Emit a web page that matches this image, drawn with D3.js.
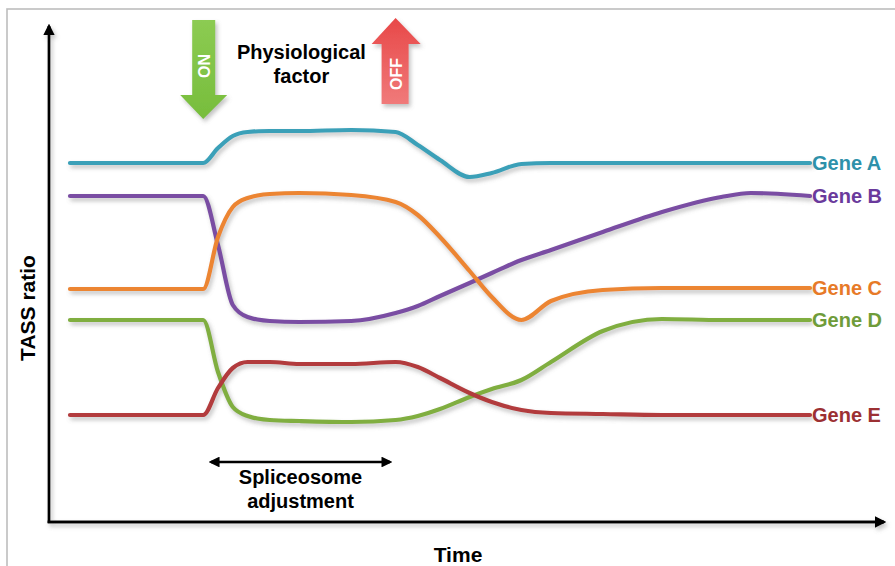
<!DOCTYPE html>
<html>
<head>
<meta charset="utf-8">
<script src="https://cdn.jsdelivr.net/npm/d3@7"></script>
<style>
  html, body { margin: 0; padding: 0; background: #fff; }
  svg { display: block; font-family: "Liberation Sans", Arial, sans-serif; }
</style>
</head>
<body>
<svg id="chart" width="895" height="566"></svg>
<script>
// ---- data (time in arbitrary units, TASS ratio in arbitrary units) ----
const times = [0, 18, 20, 22, 24, 27, 31, 38, 44, 47, 50, 54, 57, 61, 65, 72, 80, 88, 92, 100];
const geneA = [71.8, 71.8, 74.8, 77.2, 78, 78.2, 78.2, 78.4, 78, 75.4, 72.4, 69, 69.8, 71.6, 71.8, 71.8, 71.8, 71.8, 71.8, 71.8];
const geneB = [65.2, 65.2, 55.4, 43.4, 41, 40.2, 40, 40.2, 41.8, 43.2, 45.2, 47.8, 49.8, 52.4, 54.4, 58, 62, 65, 65.8, 65.2];
const geneC = [46.6, 46.6, 57, 63, 64.8, 65.6, 65.8, 65.4, 64, 61.4, 57, 50.2, 45, 40.4, 44.2, 46.4, 46.8, 46.8, 46.8, 46.8];
const geneD = [40.4, 40.4, 30, 23, 21.2, 20.4, 20.2, 20, 20.4, 21.2, 22.6, 25, 26.6, 28.4, 32, 38.2, 40.6, 40.4, 40.4, 40.4];
const geneE = [21.4, 21.4, 26.8, 30.8, 32, 32, 31.6, 31.6, 32, 31, 28.8, 25.8, 24, 22.4, 21.8, 21.6, 21.4, 21.4, 21.4, 21.4];
const geneNames = ["Gene A", "Gene B", "Gene C", "Gene D", "Gene E"];
const lineColors = ["#3aa0b8", "#7a4ea3", "#ec8533", "#80ae40", "#b23b3c"];
const labelColors = ["#2e91aa", "#6a3a9c", "#e77a28", "#6f9c3a", "#9c3033"];
const onTime = 18, offTime = 44;   // physiological factor switched on / off
const spliceStart = 18.5, spliceEnd = 43.8;

const seriesValues = [geneA, geneB, geneC, geneD, geneE];

// ---- scales ----
const x = d3.scaleLinear().domain([0, 100]).range([70, 810]);
const y = d3.scaleLinear().domain([0, 100]).range([522, 22]);
const xAxisEnd = 888, yAxisTop = 22, axisX = 49, axisY = 522;

const svg = d3.select("#chart");
const defs = svg.append("defs");

// drop shadow
const f = defs.append("filter").attr("id", "shadow")
  .attr("x", "-10%").attr("y", "-20%").attr("width", "130%").attr("height", "160%");
f.append("feDropShadow").attr("dx", 2).attr("dy", 3).attr("stdDeviation", 2)
  .attr("flood-color", "#777").attr("flood-opacity", 0.45);

// arrow marker
const mk = defs.append("marker").attr("id", "arrowHead")
  .attr("viewBox", "0 0 10 10").attr("refX", 8).attr("refY", 5)
  .attr("markerWidth", 4.2).attr("markerHeight", 4.2).attr("orient", "auto-start-reverse")
  .attr("markerUnits", "strokeWidth");
mk.append("path").attr("d", "M0,0 L10,5 L0,10 Z").attr("fill", "#000");

const mk2 = defs.append("marker").attr("id", "arrowHead2")
  .attr("viewBox", "0 0 10 10").attr("refX", 8).attr("refY", 5)
  .attr("markerWidth", 4.5).attr("markerHeight", 4.5).attr("orient", "auto-start-reverse")
  .attr("markerUnits", "strokeWidth");
mk2.append("path").attr("d", "M0,0 L10,5 L0,10 Z").attr("fill", "#000");

// gradients for ON/OFF arrows
const gG = defs.append("linearGradient").attr("id", "gGreen").attr("x1", 0).attr("y1", 0).attr("x2", 0).attr("y2", 1);
gG.append("stop").attr("offset", "0%").attr("stop-color", "#8ccb52");
gG.append("stop").attr("offset", "100%").attr("stop-color", "#77bd3c");
const gR = defs.append("linearGradient").attr("id", "gRed").attr("x1", 0).attr("y1", 0).attr("x2", 0).attr("y2", 1);
gR.append("stop").attr("offset", "0%").attr("stop-color", "#e84848");
gR.append("stop").attr("offset", "100%").attr("stop-color", "#f07a7a");

// frame
svg.append("rect").attr("x", 7).attr("y", 9).attr("width", 900).attr("height", 570)
  .attr("fill", "none").attr("stroke", "#bdbdbd").attr("stroke-width", 1.6);

// axes
const axes = svg.append("g").attr("filter", "url(#shadow)");
axes.append("line").attr("x1", axisX).attr("y1", axisY + 1).attr("x2", axisX).attr("y2", yAxisTop + 4)
  .attr("stroke", "#000").attr("stroke-width", 2.8).attr("marker-end", "url(#arrowHead)");
axes.append("line").attr("x1", axisX - 1.4).attr("y1", axisY).attr("x2", xAxisEnd - 4).attr("y2", axisY)
  .attr("stroke", "#000").attr("stroke-width", 2.8).attr("marker-end", "url(#arrowHead)");

// axis titles
svg.append("text").attr("transform", `translate(35,${(y.range()[0] + y.range()[1]) / 2 + 36}) rotate(-90)`)
  .attr("text-anchor", "middle").attr("font-size", 21).attr("font-weight", "bold").attr("fill", "#000")
  .text("TASS ratio");
svg.append("text").attr("x", 458).attr("y", 562).attr("text-anchor", "middle")
  .attr("font-size", 21).attr("font-weight", "bold").attr("fill", "#000").text("Time");

// lines
const line = d3.line().x(d => x(d[0])).y(d => y(d[1])).curve(d3.curveMonotoneX);
const lines = svg.append("g").attr("filter", "url(#shadow)");
seriesValues.forEach((vals, i) => {
  const pts = times.map((t, j) => [t, vals[j]]);
  lines.append("path").attr("d", line(pts)).attr("fill", "none")
    .attr("stroke", lineColors[i]).attr("stroke-width", 4.2)
    .attr("stroke-linecap", "round").attr("stroke-linejoin", "round");
});

// labels
seriesValues.forEach((vals, i) => {
  svg.append("text").attr("x", x(100) + 2).attr("y", y(vals[vals.length - 1]) + 7)
    .attr("font-size", 20).attr("font-weight", "bold").attr("fill", labelColors[i])
    .text(geneNames[i]);
});

// ON arrow (down)
const onX = x(onTime);
const arrows = svg.append("g").attr("filter", "url(#shadow)");
arrows.append("path")
  .attr("d", `M${onX - 11},20 L${onX + 12},20 L${onX + 12},95 L${onX + 24},95 L${onX},119 L${onX - 23},95 L${onX - 11},95 Z`)
  .attr("fill", "url(#gGreen)");
svg.append("text").attr("transform", `translate(${onX + 7},66) rotate(-90)`)
  .attr("text-anchor", "middle").attr("font-size", 16).attr("font-weight", "bold").attr("fill", "#fff").text("ON");

// OFF arrow (up)
const offX = x(offTime);
arrows.append("path")
  .attr("d", `M${offX - 14},104 L${offX + 13},104 L${offX + 13},44 L${offX + 25},44 L${offX},18 L${offX - 24},44 L${offX - 14},44 Z`)
  .attr("fill", "url(#gRed)");
svg.append("text").attr("transform", `translate(${offX + 6},74) rotate(-90)`)
  .attr("text-anchor", "middle").attr("font-size", 16).attr("font-weight", "bold").attr("fill", "#fff").text("OFF");

// Physiological factor
const midX = (x(onTime) + x(offTime)) / 2;
svg.append("text").attr("x", midX + 2).attr("y", 59).attr("text-anchor", "middle")
  .attr("font-size", 20).attr("font-weight", "bold").attr("fill", "#000").text("Physiological");
svg.append("text").attr("x", midX + 2).attr("y", 83).attr("text-anchor", "middle")
  .attr("font-size", 20).attr("font-weight", "bold").attr("fill", "#000").text("factor");

// Spliceosome adjustment double arrow
svg.append("line").attr("x1", x(spliceStart) + 4).attr("y1", 462).attr("x2", x(spliceEnd) - 4).attr("y2", 462)
  .attr("stroke", "#000").attr("stroke-width", 2.4)
  .attr("marker-start", "url(#arrowHead2)").attr("marker-end", "url(#arrowHead2)");
const sMid = (x(spliceStart) + x(spliceEnd)) / 2;
svg.append("text").attr("x", sMid).attr("y", 484).attr("text-anchor", "middle")
  .attr("font-size", 20).attr("font-weight", "bold").attr("fill", "#000").text("Spliceosome");
svg.append("text").attr("x", sMid).attr("y", 508).attr("text-anchor", "middle")
  .attr("font-size", 20).attr("font-weight", "bold").attr("fill", "#000").text("adjustment");
</script>
</body>
</html>
